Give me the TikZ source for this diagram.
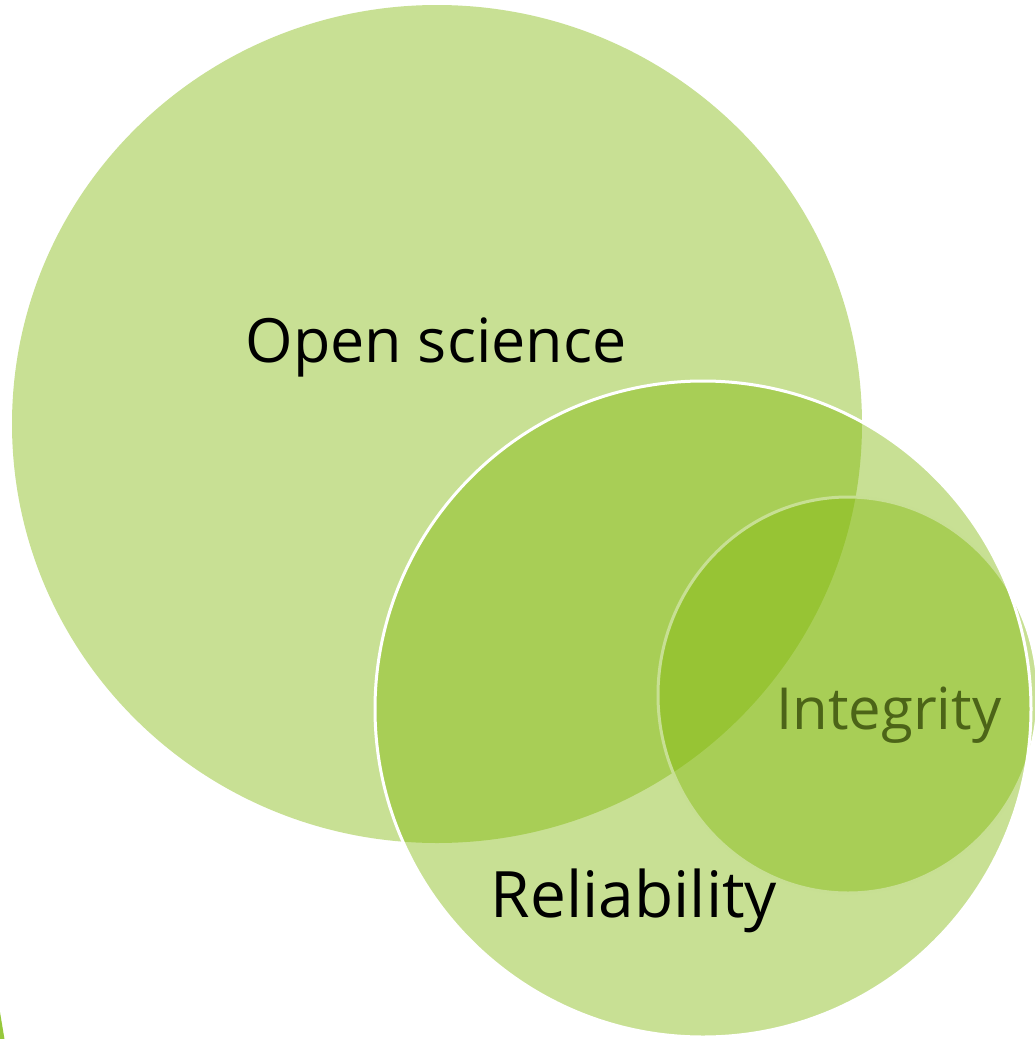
\documentclass[tikz,border=0pt]{standalone}
\usepackage{fontspec}
\setmainfont{Open Sans}
\definecolor{leaf}{RGB}{127,183,6}
\definecolor{leafedge}{RGB}{150,200,60}
\definecolor{olive}{RGB}{76,100,24}
\tikzset{
  venn/.style={fill=leaf, fill opacity=0.43},
  vennrim/.style={venn, draw=white, line width=3pt},
  labeltext/.style={anchor=base, inner sep=0pt, text=black},
  smalltext/.style={anchor=base, inner sep=0pt, font=\fontsize{58}{64}\selectfont, text=olive}
}
\begin{document}
\begin{tikzpicture}[x=1pt,y=-1pt]
  \useasboundingbox (0,0) rectangle (1035,1039);
  \clip (0,0) rectangle (1035,1039);
  % edge of a further circle at the lower left
  \fill[leafedge] (0,1012) -- (4.5,1039) -- (0,1039) -- cycle;
  % the three overlapping sets
  \fill[venn] (437,424) ellipse [x radius=425pt, y radius=419pt];
  \draw[vennrim] (848,695) ellipse [x radius=190pt, y radius=198pt];
  \draw[vennrim] (703,709) circle [radius=328pt];
  % labels
  \node[labeltext, font=\fontsize{61}{67}\selectfont] (open) at (436,362) {Open science};
  \node[labeltext, font=\fontsize{64}{70}\selectfont] (rel) at (634,917) {Reliability};
  \node[smalltext] (integ) at (889,729) {Integrity};
\end{tikzpicture}
\end{document}
